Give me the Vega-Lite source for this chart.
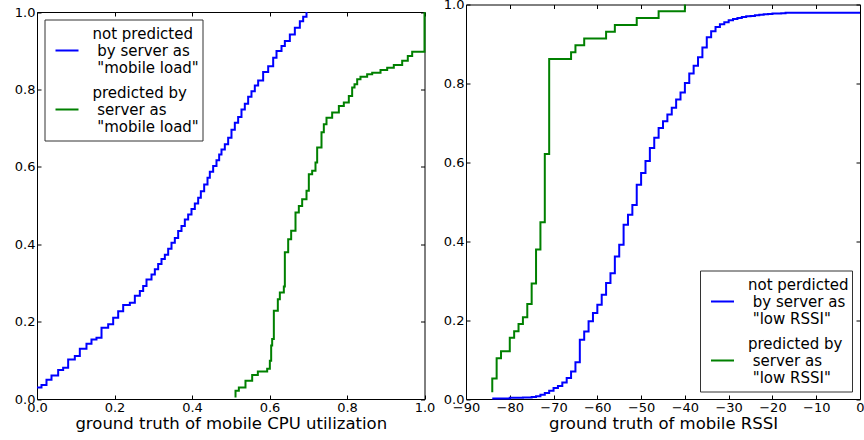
{
  "$schema": "https://vega.github.io/schema/vega-lite/v6.json",
  "background": "white",
  "padding": {"left": 14, "top": -1.5, "right": 0, "bottom": 0},
  "spacing": 41,
  "bounds": "flush",
  "datasets": {
    "cpu": [
      {"v": 0, "cdf": 0.03, "series": "not predicted|\u200b\u00a0by server as|\u200b\u00a0\"mobile load\""},
      {"v": 0.0116, "cdf": 0.036, "series": "not predicted|\u200b\u00a0by server as|\u200b\u00a0\"mobile load\""},
      {"v": 0.0245, "cdf": 0.05, "series": "not predicted|\u200b\u00a0by server as|\u200b\u00a0\"mobile load\""},
      {"v": 0.0374, "cdf": 0.061, "series": "not predicted|\u200b\u00a0by server as|\u200b\u00a0\"mobile load\""},
      {"v": 0.0546, "cdf": 0.075, "series": "not predicted|\u200b\u00a0by server as|\u200b\u00a0\"mobile load\""},
      {"v": 0.0675, "cdf": 0.081, "series": "not predicted|\u200b\u00a0by server as|\u200b\u00a0\"mobile load\""},
      {"v": 0.0804, "cdf": 0.102, "series": "not predicted|\u200b\u00a0by server as|\u200b\u00a0\"mobile load\""},
      {"v": 0.0976, "cdf": 0.111, "series": "not predicted|\u200b\u00a0by server as|\u200b\u00a0\"mobile load\""},
      {"v": 0.1105, "cdf": 0.13, "series": "not predicted|\u200b\u00a0by server as|\u200b\u00a0\"mobile load\""},
      {"v": 0.1277, "cdf": 0.143, "series": "not predicted|\u200b\u00a0by server as|\u200b\u00a0\"mobile load\""},
      {"v": 0.1406, "cdf": 0.154, "series": "not predicted|\u200b\u00a0by server as|\u200b\u00a0\"mobile load\""},
      {"v": 0.1535, "cdf": 0.158, "series": "not predicted|\u200b\u00a0by server as|\u200b\u00a0\"mobile load\""},
      {"v": 0.1665, "cdf": 0.184, "series": "not predicted|\u200b\u00a0by server as|\u200b\u00a0\"mobile load\""},
      {"v": 0.1837, "cdf": 0.193, "series": "not predicted|\u200b\u00a0by server as|\u200b\u00a0\"mobile load\""},
      {"v": 0.1966, "cdf": 0.21, "series": "not predicted|\u200b\u00a0by server as|\u200b\u00a0\"mobile load\""},
      {"v": 0.2095, "cdf": 0.227, "series": "not predicted|\u200b\u00a0by server as|\u200b\u00a0\"mobile load\""},
      {"v": 0.2224, "cdf": 0.243, "series": "not predicted|\u200b\u00a0by server as|\u200b\u00a0\"mobile load\""},
      {"v": 0.2396, "cdf": 0.249, "series": "not predicted|\u200b\u00a0by server as|\u200b\u00a0\"mobile load\""},
      {"v": 0.2525, "cdf": 0.267, "series": "not predicted|\u200b\u00a0by server as|\u200b\u00a0\"mobile load\""},
      {"v": 0.2654, "cdf": 0.279, "series": "not predicted|\u200b\u00a0by server as|\u200b\u00a0\"mobile load\""},
      {"v": 0.274, "cdf": 0.292, "series": "not predicted|\u200b\u00a0by server as|\u200b\u00a0\"mobile load\""},
      {"v": 0.2826, "cdf": 0.309, "series": "not predicted|\u200b\u00a0by server as|\u200b\u00a0\"mobile load\""},
      {"v": 0.2955, "cdf": 0.322, "series": "not predicted|\u200b\u00a0by server as|\u200b\u00a0\"mobile load\""},
      {"v": 0.3041, "cdf": 0.335, "series": "not predicted|\u200b\u00a0by server as|\u200b\u00a0\"mobile load\""},
      {"v": 0.3127, "cdf": 0.349, "series": "not predicted|\u200b\u00a0by server as|\u200b\u00a0\"mobile load\""},
      {"v": 0.3213, "cdf": 0.362, "series": "not predicted|\u200b\u00a0by server as|\u200b\u00a0\"mobile load\""},
      {"v": 0.3299, "cdf": 0.373, "series": "not predicted|\u200b\u00a0by server as|\u200b\u00a0\"mobile load\""},
      {"v": 0.3385, "cdf": 0.388, "series": "not predicted|\u200b\u00a0by server as|\u200b\u00a0\"mobile load\""},
      {"v": 0.3471, "cdf": 0.404, "series": "not predicted|\u200b\u00a0by server as|\u200b\u00a0\"mobile load\""},
      {"v": 0.3557, "cdf": 0.416, "series": "not predicted|\u200b\u00a0by server as|\u200b\u00a0\"mobile load\""},
      {"v": 0.3643, "cdf": 0.434, "series": "not predicted|\u200b\u00a0by server as|\u200b\u00a0\"mobile load\""},
      {"v": 0.3729, "cdf": 0.447, "series": "not predicted|\u200b\u00a0by server as|\u200b\u00a0\"mobile load\""},
      {"v": 0.3815, "cdf": 0.464, "series": "not predicted|\u200b\u00a0by server as|\u200b\u00a0\"mobile load\""},
      {"v": 0.3901, "cdf": 0.477, "series": "not predicted|\u200b\u00a0by server as|\u200b\u00a0\"mobile load\""},
      {"v": 0.3987, "cdf": 0.491, "series": "not predicted|\u200b\u00a0by server as|\u200b\u00a0\"mobile load\""},
      {"v": 0.4073, "cdf": 0.505, "series": "not predicted|\u200b\u00a0by server as|\u200b\u00a0\"mobile load\""},
      {"v": 0.4159, "cdf": 0.52, "series": "not predicted|\u200b\u00a0by server as|\u200b\u00a0\"mobile load\""},
      {"v": 0.4228, "cdf": 0.537, "series": "not predicted|\u200b\u00a0by server as|\u200b\u00a0\"mobile load\""},
      {"v": 0.4314, "cdf": 0.554, "series": "not predicted|\u200b\u00a0by server as|\u200b\u00a0\"mobile load\""},
      {"v": 0.44, "cdf": 0.572, "series": "not predicted|\u200b\u00a0by server as|\u200b\u00a0\"mobile load\""},
      {"v": 0.446, "cdf": 0.587, "series": "not predicted|\u200b\u00a0by server as|\u200b\u00a0\"mobile load\""},
      {"v": 0.4546, "cdf": 0.602, "series": "not predicted|\u200b\u00a0by server as|\u200b\u00a0\"mobile load\""},
      {"v": 0.4632, "cdf": 0.617, "series": "not predicted|\u200b\u00a0by server as|\u200b\u00a0\"mobile load\""},
      {"v": 0.4701, "cdf": 0.632, "series": "not predicted|\u200b\u00a0by server as|\u200b\u00a0\"mobile load\""},
      {"v": 0.4761, "cdf": 0.645, "series": "not predicted|\u200b\u00a0by server as|\u200b\u00a0\"mobile load\""},
      {"v": 0.4847, "cdf": 0.658, "series": "not predicted|\u200b\u00a0by server as|\u200b\u00a0\"mobile load\""},
      {"v": 0.4933, "cdf": 0.675, "series": "not predicted|\u200b\u00a0by server as|\u200b\u00a0\"mobile load\""},
      {"v": 0.5019, "cdf": 0.696, "series": "not predicted|\u200b\u00a0by server as|\u200b\u00a0\"mobile load\""},
      {"v": 0.5105, "cdf": 0.714, "series": "not predicted|\u200b\u00a0by server as|\u200b\u00a0\"mobile load\""},
      {"v": 0.5191, "cdf": 0.729, "series": "not predicted|\u200b\u00a0by server as|\u200b\u00a0\"mobile load\""},
      {"v": 0.5277, "cdf": 0.748, "series": "not predicted|\u200b\u00a0by server as|\u200b\u00a0\"mobile load\""},
      {"v": 0.5363, "cdf": 0.763, "series": "not predicted|\u200b\u00a0by server as|\u200b\u00a0\"mobile load\""},
      {"v": 0.5449, "cdf": 0.781, "series": "not predicted|\u200b\u00a0by server as|\u200b\u00a0\"mobile load\""},
      {"v": 0.5535, "cdf": 0.795, "series": "not predicted|\u200b\u00a0by server as|\u200b\u00a0\"mobile load\""},
      {"v": 0.5621, "cdf": 0.81, "series": "not predicted|\u200b\u00a0by server as|\u200b\u00a0\"mobile load\""},
      {"v": 0.5707, "cdf": 0.823, "series": "not predicted|\u200b\u00a0by server as|\u200b\u00a0\"mobile load\""},
      {"v": 0.5836, "cdf": 0.845, "series": "not predicted|\u200b\u00a0by server as|\u200b\u00a0\"mobile load\""},
      {"v": 0.5966, "cdf": 0.86, "series": "not predicted|\u200b\u00a0by server as|\u200b\u00a0\"mobile load\""},
      {"v": 0.6095, "cdf": 0.882, "series": "not predicted|\u200b\u00a0by server as|\u200b\u00a0\"mobile load\""},
      {"v": 0.6181, "cdf": 0.899, "series": "not predicted|\u200b\u00a0by server as|\u200b\u00a0\"mobile load\""},
      {"v": 0.631, "cdf": 0.912, "series": "not predicted|\u200b\u00a0by server as|\u200b\u00a0\"mobile load\""},
      {"v": 0.6396, "cdf": 0.925, "series": "not predicted|\u200b\u00a0by server as|\u200b\u00a0\"mobile load\""},
      {"v": 0.6525, "cdf": 0.942, "series": "not predicted|\u200b\u00a0by server as|\u200b\u00a0\"mobile load\""},
      {"v": 0.6654, "cdf": 0.959, "series": "not predicted|\u200b\u00a0by server as|\u200b\u00a0\"mobile load\""},
      {"v": 0.6783, "cdf": 0.976, "series": "not predicted|\u200b\u00a0by server as|\u200b\u00a0\"mobile load\""},
      {"v": 0.6869, "cdf": 0.988, "series": "not predicted|\u200b\u00a0by server as|\u200b\u00a0\"mobile load\""},
      {"v": 0.6955, "cdf": 1.0, "series": "not predicted|\u200b\u00a0by server as|\u200b\u00a0\"mobile load\""},
      {"v": 0.5123, "cdf": 0.004, "series": "predicted by|\u200b\u00a0server as|\u200b\u00a0\"mobile load\""},
      {"v": 0.5123, "cdf": 0.0215, "series": "predicted by|\u200b\u00a0server as|\u200b\u00a0\"mobile load\""},
      {"v": 0.5209, "cdf": 0.03, "series": "predicted by|\u200b\u00a0server as|\u200b\u00a0\"mobile load\""},
      {"v": 0.538, "cdf": 0.047, "series": "predicted by|\u200b\u00a0server as|\u200b\u00a0\"mobile load\""},
      {"v": 0.5553, "cdf": 0.062, "series": "predicted by|\u200b\u00a0server as|\u200b\u00a0\"mobile load\""},
      {"v": 0.5699, "cdf": 0.071, "series": "predicted by|\u200b\u00a0server as|\u200b\u00a0\"mobile load\""},
      {"v": 0.594, "cdf": 0.078, "series": "predicted by|\u200b\u00a0server as|\u200b\u00a0\"mobile load\""},
      {"v": 0.6009, "cdf": 0.099, "series": "predicted by|\u200b\u00a0server as|\u200b\u00a0\"mobile load\""},
      {"v": 0.6043, "cdf": 0.138, "series": "predicted by|\u200b\u00a0server as|\u200b\u00a0\"mobile load\""},
      {"v": 0.6069, "cdf": 0.155, "series": "predicted by|\u200b\u00a0server as|\u200b\u00a0\"mobile load\""},
      {"v": 0.6112, "cdf": 0.228, "series": "predicted by|\u200b\u00a0server as|\u200b\u00a0\"mobile load\""},
      {"v": 0.6215, "cdf": 0.258, "series": "predicted by|\u200b\u00a0server as|\u200b\u00a0\"mobile load\""},
      {"v": 0.6267, "cdf": 0.275, "series": "predicted by|\u200b\u00a0server as|\u200b\u00a0\"mobile load\""},
      {"v": 0.637, "cdf": 0.291, "series": "predicted by|\u200b\u00a0server as|\u200b\u00a0\"mobile load\""},
      {"v": 0.6396, "cdf": 0.379, "series": "predicted by|\u200b\u00a0server as|\u200b\u00a0\"mobile load\""},
      {"v": 0.6482, "cdf": 0.413, "series": "predicted by|\u200b\u00a0server as|\u200b\u00a0\"mobile load\""},
      {"v": 0.6559, "cdf": 0.435, "series": "predicted by|\u200b\u00a0server as|\u200b\u00a0\"mobile load\""},
      {"v": 0.6671, "cdf": 0.482, "series": "predicted by|\u200b\u00a0server as|\u200b\u00a0\"mobile load\""},
      {"v": 0.6757, "cdf": 0.499, "series": "predicted by|\u200b\u00a0server as|\u200b\u00a0\"mobile load\""},
      {"v": 0.6843, "cdf": 0.516, "series": "predicted by|\u200b\u00a0server as|\u200b\u00a0\"mobile load\""},
      {"v": 0.6955, "cdf": 0.538, "series": "predicted by|\u200b\u00a0server as|\u200b\u00a0\"mobile load\""},
      {"v": 0.7015, "cdf": 0.581, "series": "predicted by|\u200b\u00a0server as|\u200b\u00a0\"mobile load\""},
      {"v": 0.7101, "cdf": 0.59, "series": "predicted by|\u200b\u00a0server as|\u200b\u00a0\"mobile load\""},
      {"v": 0.7187, "cdf": 0.611, "series": "predicted by|\u200b\u00a0server as|\u200b\u00a0\"mobile load\""},
      {"v": 0.723, "cdf": 0.65, "series": "predicted by|\u200b\u00a0server as|\u200b\u00a0\"mobile load\""},
      {"v": 0.7342, "cdf": 0.689, "series": "predicted by|\u200b\u00a0server as|\u200b\u00a0\"mobile load\""},
      {"v": 0.7402, "cdf": 0.71, "series": "predicted by|\u200b\u00a0server as|\u200b\u00a0\"mobile load\""},
      {"v": 0.7471, "cdf": 0.727, "series": "predicted by|\u200b\u00a0server as|\u200b\u00a0\"mobile load\""},
      {"v": 0.7617, "cdf": 0.74, "series": "predicted by|\u200b\u00a0server as|\u200b\u00a0\"mobile load\""},
      {"v": 0.779, "cdf": 0.757, "series": "predicted by|\u200b\u00a0server as|\u200b\u00a0\"mobile load\""},
      {"v": 0.7918, "cdf": 0.766, "series": "predicted by|\u200b\u00a0server as|\u200b\u00a0\"mobile load\""},
      {"v": 0.8047, "cdf": 0.783, "series": "predicted by|\u200b\u00a0server as|\u200b\u00a0\"mobile load\""},
      {"v": 0.8133, "cdf": 0.805, "series": "predicted by|\u200b\u00a0server as|\u200b\u00a0\"mobile load\""},
      {"v": 0.8194, "cdf": 0.813, "series": "predicted by|\u200b\u00a0server as|\u200b\u00a0\"mobile load\""},
      {"v": 0.8263, "cdf": 0.826, "series": "predicted by|\u200b\u00a0server as|\u200b\u00a0\"mobile load\""},
      {"v": 0.8348, "cdf": 0.833, "series": "predicted by|\u200b\u00a0server as|\u200b\u00a0\"mobile load\""},
      {"v": 0.852, "cdf": 0.839, "series": "predicted by|\u200b\u00a0server as|\u200b\u00a0\"mobile load\""},
      {"v": 0.865, "cdf": 0.843, "series": "predicted by|\u200b\u00a0server as|\u200b\u00a0\"mobile load\""},
      {"v": 0.8865, "cdf": 0.85, "series": "predicted by|\u200b\u00a0server as|\u200b\u00a0\"mobile load\""},
      {"v": 0.9037, "cdf": 0.856, "series": "predicted by|\u200b\u00a0server as|\u200b\u00a0\"mobile load\""},
      {"v": 0.9208, "cdf": 0.863, "series": "predicted by|\u200b\u00a0server as|\u200b\u00a0\"mobile load\""},
      {"v": 0.9424, "cdf": 0.874, "series": "predicted by|\u200b\u00a0server as|\u200b\u00a0\"mobile load\""},
      {"v": 0.9569, "cdf": 0.886, "series": "predicted by|\u200b\u00a0server as|\u200b\u00a0\"mobile load\""},
      {"v": 0.9682, "cdf": 0.897, "series": "predicted by|\u200b\u00a0server as|\u200b\u00a0\"mobile load\""},
      {"v": 1.0, "cdf": 0.897, "series": "predicted by|\u200b\u00a0server as|\u200b\u00a0\"mobile load\""},
      {"v": 1.0, "cdf": 1.0, "series": "predicted by|\u200b\u00a0server as|\u200b\u00a0\"mobile load\""}
    ],
    "rssi": [
      {"rssi": -84, "cdf": 0.001, "series": "not perdicted|\u200b\u00a0by server as|\u200b\u00a0\"low RSSI\""},
      {"rssi": -80, "cdf": 0.003, "series": "not perdicted|\u200b\u00a0by server as|\u200b\u00a0\"low RSSI\""},
      {"rssi": -77, "cdf": 0.004, "series": "not perdicted|\u200b\u00a0by server as|\u200b\u00a0\"low RSSI\""},
      {"rssi": -75, "cdf": 0.005, "series": "not perdicted|\u200b\u00a0by server as|\u200b\u00a0\"low RSSI\""},
      {"rssi": -74, "cdf": 0.007, "series": "not perdicted|\u200b\u00a0by server as|\u200b\u00a0\"low RSSI\""},
      {"rssi": -73, "cdf": 0.011, "series": "not perdicted|\u200b\u00a0by server as|\u200b\u00a0\"low RSSI\""},
      {"rssi": -72, "cdf": 0.015, "series": "not perdicted|\u200b\u00a0by server as|\u200b\u00a0\"low RSSI\""},
      {"rssi": -71, "cdf": 0.021, "series": "not perdicted|\u200b\u00a0by server as|\u200b\u00a0\"low RSSI\""},
      {"rssi": -70, "cdf": 0.028, "series": "not perdicted|\u200b\u00a0by server as|\u200b\u00a0\"low RSSI\""},
      {"rssi": -69, "cdf": 0.033, "series": "not perdicted|\u200b\u00a0by server as|\u200b\u00a0\"low RSSI\""},
      {"rssi": -68, "cdf": 0.042, "series": "not perdicted|\u200b\u00a0by server as|\u200b\u00a0\"low RSSI\""},
      {"rssi": -67, "cdf": 0.053, "series": "not perdicted|\u200b\u00a0by server as|\u200b\u00a0\"low RSSI\""},
      {"rssi": -66, "cdf": 0.07, "series": "not perdicted|\u200b\u00a0by server as|\u200b\u00a0\"low RSSI\""},
      {"rssi": -65, "cdf": 0.093, "series": "not perdicted|\u200b\u00a0by server as|\u200b\u00a0\"low RSSI\""},
      {"rssi": -64, "cdf": 0.15, "series": "not perdicted|\u200b\u00a0by server as|\u200b\u00a0\"low RSSI\""},
      {"rssi": -63, "cdf": 0.171, "series": "not perdicted|\u200b\u00a0by server as|\u200b\u00a0\"low RSSI\""},
      {"rssi": -62, "cdf": 0.197, "series": "not perdicted|\u200b\u00a0by server as|\u200b\u00a0\"low RSSI\""},
      {"rssi": -61, "cdf": 0.218, "series": "not perdicted|\u200b\u00a0by server as|\u200b\u00a0\"low RSSI\""},
      {"rssi": -60, "cdf": 0.239, "series": "not perdicted|\u200b\u00a0by server as|\u200b\u00a0\"low RSSI\""},
      {"rssi": -59, "cdf": 0.264, "series": "not perdicted|\u200b\u00a0by server as|\u200b\u00a0\"low RSSI\""},
      {"rssi": -58, "cdf": 0.294, "series": "not perdicted|\u200b\u00a0by server as|\u200b\u00a0\"low RSSI\""},
      {"rssi": -57, "cdf": 0.319, "series": "not perdicted|\u200b\u00a0by server as|\u200b\u00a0\"low RSSI\""},
      {"rssi": -56, "cdf": 0.361, "series": "not perdicted|\u200b\u00a0by server as|\u200b\u00a0\"low RSSI\""},
      {"rssi": -55, "cdf": 0.391, "series": "not perdicted|\u200b\u00a0by server as|\u200b\u00a0\"low RSSI\""},
      {"rssi": -54, "cdf": 0.442, "series": "not perdicted|\u200b\u00a0by server as|\u200b\u00a0\"low RSSI\""},
      {"rssi": -53, "cdf": 0.467, "series": "not perdicted|\u200b\u00a0by server as|\u200b\u00a0\"low RSSI\""},
      {"rssi": -52, "cdf": 0.492, "series": "not perdicted|\u200b\u00a0by server as|\u200b\u00a0\"low RSSI\""},
      {"rssi": -51, "cdf": 0.543, "series": "not perdicted|\u200b\u00a0by server as|\u200b\u00a0\"low RSSI\""},
      {"rssi": -50, "cdf": 0.573, "series": "not perdicted|\u200b\u00a0by server as|\u200b\u00a0\"low RSSI\""},
      {"rssi": -49, "cdf": 0.603, "series": "not perdicted|\u200b\u00a0by server as|\u200b\u00a0\"low RSSI\""},
      {"rssi": -48, "cdf": 0.636, "series": "not perdicted|\u200b\u00a0by server as|\u200b\u00a0\"low RSSI\""},
      {"rssi": -47, "cdf": 0.662, "series": "not perdicted|\u200b\u00a0by server as|\u200b\u00a0\"low RSSI\""},
      {"rssi": -46, "cdf": 0.687, "series": "not perdicted|\u200b\u00a0by server as|\u200b\u00a0\"low RSSI\""},
      {"rssi": -45, "cdf": 0.704, "series": "not perdicted|\u200b\u00a0by server as|\u200b\u00a0\"low RSSI\""},
      {"rssi": -44, "cdf": 0.721, "series": "not perdicted|\u200b\u00a0by server as|\u200b\u00a0\"low RSSI\""},
      {"rssi": -43, "cdf": 0.738, "series": "not perdicted|\u200b\u00a0by server as|\u200b\u00a0\"low RSSI\""},
      {"rssi": -42, "cdf": 0.759, "series": "not perdicted|\u200b\u00a0by server as|\u200b\u00a0\"low RSSI\""},
      {"rssi": -41, "cdf": 0.777, "series": "not perdicted|\u200b\u00a0by server as|\u200b\u00a0\"low RSSI\""},
      {"rssi": -40, "cdf": 0.801, "series": "not perdicted|\u200b\u00a0by server as|\u200b\u00a0\"low RSSI\""},
      {"rssi": -39, "cdf": 0.825, "series": "not perdicted|\u200b\u00a0by server as|\u200b\u00a0\"low RSSI\""},
      {"rssi": -38, "cdf": 0.845, "series": "not perdicted|\u200b\u00a0by server as|\u200b\u00a0\"low RSSI\""},
      {"rssi": -37, "cdf": 0.866, "series": "not perdicted|\u200b\u00a0by server as|\u200b\u00a0\"low RSSI\""},
      {"rssi": -36, "cdf": 0.891, "series": "not perdicted|\u200b\u00a0by server as|\u200b\u00a0\"low RSSI\""},
      {"rssi": -35, "cdf": 0.917, "series": "not perdicted|\u200b\u00a0by server as|\u200b\u00a0\"low RSSI\""},
      {"rssi": -34, "cdf": 0.932, "series": "not perdicted|\u200b\u00a0by server as|\u200b\u00a0\"low RSSI\""},
      {"rssi": -33, "cdf": 0.943, "series": "not perdicted|\u200b\u00a0by server as|\u200b\u00a0\"low RSSI\""},
      {"rssi": -32, "cdf": 0.95, "series": "not perdicted|\u200b\u00a0by server as|\u200b\u00a0\"low RSSI\""},
      {"rssi": -31, "cdf": 0.955, "series": "not perdicted|\u200b\u00a0by server as|\u200b\u00a0\"low RSSI\""},
      {"rssi": -30, "cdf": 0.96, "series": "not perdicted|\u200b\u00a0by server as|\u200b\u00a0\"low RSSI\""},
      {"rssi": -29, "cdf": 0.963, "series": "not perdicted|\u200b\u00a0by server as|\u200b\u00a0\"low RSSI\""},
      {"rssi": -28, "cdf": 0.966, "series": "not perdicted|\u200b\u00a0by server as|\u200b\u00a0\"low RSSI\""},
      {"rssi": -27, "cdf": 0.968, "series": "not perdicted|\u200b\u00a0by server as|\u200b\u00a0\"low RSSI\""},
      {"rssi": -26, "cdf": 0.97, "series": "not perdicted|\u200b\u00a0by server as|\u200b\u00a0\"low RSSI\""},
      {"rssi": -25, "cdf": 0.971, "series": "not perdicted|\u200b\u00a0by server as|\u200b\u00a0\"low RSSI\""},
      {"rssi": -24, "cdf": 0.973, "series": "not perdicted|\u200b\u00a0by server as|\u200b\u00a0\"low RSSI\""},
      {"rssi": -23, "cdf": 0.974, "series": "not perdicted|\u200b\u00a0by server as|\u200b\u00a0\"low RSSI\""},
      {"rssi": -22, "cdf": 0.975, "series": "not perdicted|\u200b\u00a0by server as|\u200b\u00a0\"low RSSI\""},
      {"rssi": -21, "cdf": 0.976, "series": "not perdicted|\u200b\u00a0by server as|\u200b\u00a0\"low RSSI\""},
      {"rssi": -20, "cdf": 0.977, "series": "not perdicted|\u200b\u00a0by server as|\u200b\u00a0\"low RSSI\""},
      {"rssi": -18, "cdf": 0.978, "series": "not perdicted|\u200b\u00a0by server as|\u200b\u00a0\"low RSSI\""},
      {"rssi": -17, "cdf": 0.979, "series": "not perdicted|\u200b\u00a0by server as|\u200b\u00a0\"low RSSI\""},
      {"rssi": 0, "cdf": 0.979, "series": "not perdicted|\u200b\u00a0by server as|\u200b\u00a0\"low RSSI\""},
      {"rssi": -84, "cdf": 0.017, "series": "predicted by|\u200b\u00a0server as|\u200b\u00a0\"low RSSI\""},
      {"rssi": -84, "cdf": 0.052, "series": "predicted by|\u200b\u00a0server as|\u200b\u00a0\"low RSSI\""},
      {"rssi": -83, "cdf": 0.103, "series": "predicted by|\u200b\u00a0server as|\u200b\u00a0\"low RSSI\""},
      {"rssi": -82, "cdf": 0.121, "series": "predicted by|\u200b\u00a0server as|\u200b\u00a0\"low RSSI\""},
      {"rssi": -80, "cdf": 0.155, "series": "predicted by|\u200b\u00a0server as|\u200b\u00a0\"low RSSI\""},
      {"rssi": -79, "cdf": 0.172, "series": "predicted by|\u200b\u00a0server as|\u200b\u00a0\"low RSSI\""},
      {"rssi": -78, "cdf": 0.19, "series": "predicted by|\u200b\u00a0server as|\u200b\u00a0\"low RSSI\""},
      {"rssi": -77, "cdf": 0.207, "series": "predicted by|\u200b\u00a0server as|\u200b\u00a0\"low RSSI\""},
      {"rssi": -76, "cdf": 0.241, "series": "predicted by|\u200b\u00a0server as|\u200b\u00a0\"low RSSI\""},
      {"rssi": -75, "cdf": 0.293, "series": "predicted by|\u200b\u00a0server as|\u200b\u00a0\"low RSSI\""},
      {"rssi": -74, "cdf": 0.379, "series": "predicted by|\u200b\u00a0server as|\u200b\u00a0\"low RSSI\""},
      {"rssi": -73, "cdf": 0.448, "series": "predicted by|\u200b\u00a0server as|\u200b\u00a0\"low RSSI\""},
      {"rssi": -72, "cdf": 0.621, "series": "predicted by|\u200b\u00a0server as|\u200b\u00a0\"low RSSI\""},
      {"rssi": -71, "cdf": 0.862, "series": "predicted by|\u200b\u00a0server as|\u200b\u00a0\"low RSSI\""},
      {"rssi": -66, "cdf": 0.879, "series": "predicted by|\u200b\u00a0server as|\u200b\u00a0\"low RSSI\""},
      {"rssi": -65, "cdf": 0.897, "series": "predicted by|\u200b\u00a0server as|\u200b\u00a0\"low RSSI\""},
      {"rssi": -63, "cdf": 0.914, "series": "predicted by|\u200b\u00a0server as|\u200b\u00a0\"low RSSI\""},
      {"rssi": -58, "cdf": 0.931, "series": "predicted by|\u200b\u00a0server as|\u200b\u00a0\"low RSSI\""},
      {"rssi": -56, "cdf": 0.948, "series": "predicted by|\u200b\u00a0server as|\u200b\u00a0\"low RSSI\""},
      {"rssi": -51, "cdf": 0.966, "series": "predicted by|\u200b\u00a0server as|\u200b\u00a0\"low RSSI\""},
      {"rssi": -46, "cdf": 0.983, "series": "predicted by|\u200b\u00a0server as|\u200b\u00a0\"low RSSI\""},
      {"rssi": -40, "cdf": 1.0, "series": "predicted by|\u200b\u00a0server as|\u200b\u00a0\"low RSSI\""}
    ]
  },
  "hconcat": [
    {
      "width": 387.5,
      "height": 394.5,
      "data": {"name": "cpu"},
      "layer": [
        {
          "mark": {"type": "line", "interpolate": "step-after", "strokeWidth": 2},
          "encoding": {
            "x": {"field": "v", "type": "quantitative",
              "scale": {"domain": [0, 1], "nice": false, "zero": false},
              "axis": {"orient": "bottom", "title": "ground truth of mobile CPU utilization", "values": [0, 0.2, 0.4, 0.6, 0.8, 1.0], "format": ".1f"}},
            "y": {"field": "cdf", "type": "quantitative",
              "scale": {"domain": [0, 1], "nice": false, "zero": false, "range": [394.5, 7.5]},
              "axis": {"orient": "left", "title": null, "values": [0, 0.2, 0.4, 0.6, 0.8, 1.0], "format": ".1f"}},
            "color": {"field": "series", "type": "nominal",
              "scale": {"domain": ["not predicted|\u200b\u00a0by server as|\u200b\u00a0\"mobile load\"", "predicted by|\u200b\u00a0server as|\u200b\u00a0\"mobile load\""], "range": ["#0000ff", "#008000"]},
              "legend": {"orient": "none", "legendX": 7.5, "legendY": 15, "labelExpr": "split(datum.label, '|')",
                "encode": {"labels": {"update": {"dy": {"value": -17}}}}}},
            "order": {"value": null}
          }
        },
        {
          "mark": {"type": "point", "opacity": 0, "size": 0},
          "encoding": {
            "x": {"field": "v", "type": "quantitative",
              "scale": {"domain": [0, 1], "nice": false, "zero": false},
              "axis": {"orient": "top", "title": null, "labels": false, "offset": -7.5, "values": [0, 0.2, 0.4, 0.6, 0.8, 1.0]}},
            "y": {"field": "cdf", "type": "quantitative",
              "scale": {"domain": [0, 1], "nice": false, "zero": false, "range": [394.5, 7.5]},
              "axis": {"orient": "right", "title": null, "labels": false, "values": [0, 0.2, 0.4, 0.6, 0.8, 1.0]}}
          }
        }
      ],
      "resolve": {"axis": {"x": "independent", "y": "independent"}}
    },
    {
      "width": 394,
      "height": 394.5,
      "data": {"name": "rssi"},
      "layer": [
        {
          "mark": {"type": "line", "interpolate": "step-after", "strokeWidth": 2},
          "encoding": {
            "x": {"field": "rssi", "type": "quantitative",
              "scale": {"domain": [-90, 0], "nice": false, "zero": false},
              "axis": {"orient": "bottom", "title": "ground truth of mobile RSSI", "values": [-90, -80, -70, -60, -50, -40, -30, -20, -10, 0], "format": "d"}},
            "y": {"field": "cdf", "type": "quantitative",
              "scale": {"domain": [0, 1], "nice": false, "zero": false},
              "axis": {"orient": "left", "title": null, "values": [0, 0.2, 0.4, 0.6, 0.8, 1.0], "format": ".1f"}},
            "color": {"field": "series", "type": "nominal",
              "scale": {"domain": ["not perdicted|\u200b\u00a0by server as|\u200b\u00a0\"low RSSI\"", "predicted by|\u200b\u00a0server as|\u200b\u00a0\"low RSSI\""], "range": ["#0000ff", "#008000"]},
              "legend": {"orient": "bottom-right", "offset": 8, "labelExpr": "split(datum.label, '|')",
                "encode": {"labels": {"update": {"dy": {"value": -17}}}}}},
            "order": {"value": null}
          }
        },
        {
          "mark": {"type": "point", "opacity": 0, "size": 0},
          "encoding": {
            "x": {"field": "rssi", "type": "quantitative",
              "scale": {"domain": [-90, 0], "nice": false, "zero": false},
              "axis": {"orient": "top", "title": null, "labels": false, "values": [-90, -80, -70, -60, -50, -40, -30, -20, -10, 0]}},
            "y": {"field": "cdf", "type": "quantitative",
              "scale": {"domain": [0, 1], "nice": false, "zero": false},
              "axis": {"orient": "right", "title": null, "labels": false, "values": [0, 0.2, 0.4, 0.6, 0.8, 1.0]}}
          }
        }
      ],
      "resolve": {"axis": {"x": "independent", "y": "independent"}}
    }
  ],
  "resolve": {"scale": {"color": "independent"}},
  "config": {
    "view": {"stroke": null},
    "axis": {
      "grid": false,
      "domainColor": "black",
      "domainWidth": 1,
      "tickColor": "black",
      "tickWidth": 1,
      "tickSize": -4,
      "labelPadding": 6,
      "labelColor": "black",
      "labelFont": "DejaVu Sans",
      "labelFontSize": 13,
      "labelFlush": false,
      "labelOverlap": false,
      "titleFont": "DejaVu Sans",
      "titleFontSize": 16.5,
      "titleFontWeight": "normal",
      "titleColor": "black",
      "titlePadding": 1
    },
    "legend": {
      "title": null,
      "symbolType": "stroke",
      "symbolSize": 529,
      "symbolStrokeWidth": 2,
      "symbolOffset": 7,
      "labelOffset": 13,
      "labelFont": "DejaVu Sans",
      "labelFontSize": 15,
      "labelColor": "black",
      "labelLimit": 400,
      "clipHeight": 56,
      "rowPadding": 3,
      "padding": 3,
      "strokeColor": "#333333",
      "strokeWidth": 1,
      "fillColor": "white",
      "cornerRadius": 0
    }
  }
}
